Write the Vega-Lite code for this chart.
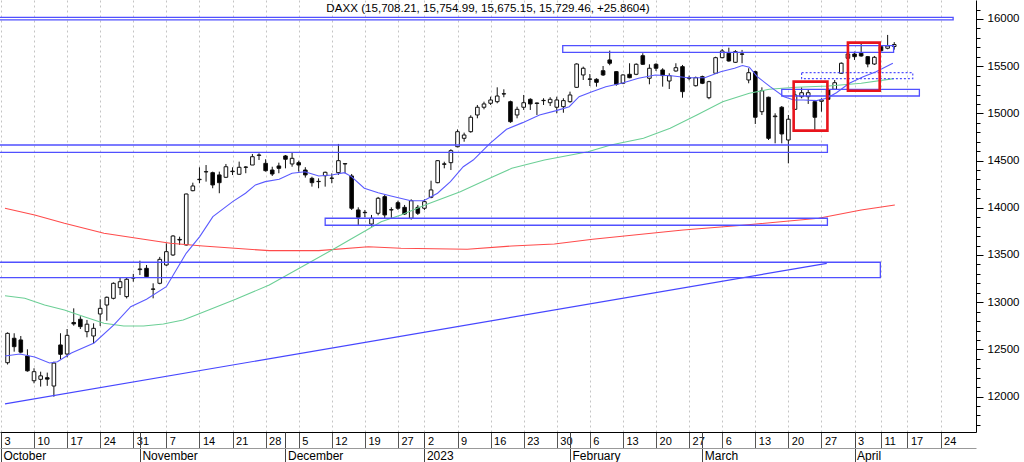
{
 "$schema": "https://vega.github.io/schema/vega-lite/v6.json",
 "width": 976,
 "height": 432,
 "autosize": {"type": "none"},
 "padding": {"left": 0, "top": 0, "right": 48, "bottom": 30},
 "background": "white",
 "config": {"view": {"stroke": null}, "font": "Liberation Sans"},
 "title": {"text": "DAXX (15,708.21, 15,754.99, 15,675.15, 15,729.46, +25.8604)", "font": "Liberation Sans", "fontSize": 11.6, "fontWeight": "normal", "color": "#000", "anchor": "middle", "frame": "group", "offset": -15},
 "datasets": {
  "candles": [
   {"i":1,"o":12359,"h":12680,"l":12340,"c":12670},
   {"i":2,"o":12618,"h":12671,"l":12476,"c":12529},
   {"i":3,"o":12600,"h":12642,"l":12459,"c":12471},
   {"i":4,"o":12430,"h":12501,"l":12264,"c":12273},
   {"i":5,"o":12168,"h":12300,"l":12141,"c":12264},
   {"i":6,"o":12183,"h":12264,"l":12106,"c":12220},
   {"i":7,"o":12200,"h":12254,"l":12114,"c":12185},
   {"i":8,"o":12112,"h":12370,"l":11999,"c":12355},
   {"i":9,"o":12547,"h":12671,"l":12395,"c":12448},
   {"i":10,"o":12451,"h":12716,"l":12416,"c":12649},
   {"i":11,"o":12785,"h":12935,"l":12751,"c":12770},
   {"i":12,"o":12819,"h":12851,"l":12716,"c":12741},
   {"i":13,"o":12688,"h":12812,"l":12628,"c":12767},
   {"i":14,"o":12642,"h":12776,"l":12565,"c":12723},
   {"i":15,"o":12875,"h":13031,"l":12748,"c":12935},
   {"i":16,"o":12970,"h":13060,"l":12804,"c":13052},
   {"i":17,"o":13041,"h":13210,"l":13030,"c":13200},
   {"i":18,"o":13154,"h":13260,"l":13076,"c":13217},
   {"i":19,"o":13059,"h":13260,"l":13040,"c":13243},
   {"i":20,"o":13262,"h":13300,"l":13217,"c":13255},
   {"i":21,"o":13345,"h":13440,"l":13288,"c":13352},
   {"i":22,"o":13359,"h":13394,"l":13264,"c":13270},
   {"i":23,"o":13140,"h":13200,"l":13041,"c":13137},
   {"i":24,"o":13200,"h":13480,"l":13190,"c":13454},
   {"i":25,"o":13394,"h":13624,"l":13384,"c":13535},
   {"i":26,"o":13500,"h":13710,"l":13490,"c":13701},
   {"i":27,"o":13665,"h":13694,"l":13606,"c":13659},
   {"i":28,"o":13606,"h":14150,"l":13600,"c":14146},
   {"i":29,"o":14181,"h":14266,"l":14175,"c":14231},
   {"i":30,"o":14298,"h":14429,"l":14260,"c":14302},
   {"i":31,"o":14380,"h":14453,"l":14277,"c":14383},
   {"i":32,"o":14372,"h":14383,"l":14207,"c":14242},
   {"i":33,"o":14348,"h":14383,"l":14154,"c":14266},
   {"i":34,"o":14323,"h":14464,"l":14315,"c":14435},
   {"i":35,"o":14388,"h":14429,"l":14347,"c":14383},
   {"i":36,"o":14355,"h":14489,"l":14350,"c":14429},
   {"i":37,"o":14432,"h":14440,"l":14366,"c":14429},
   {"i":38,"o":14453,"h":14570,"l":14453,"c":14541},
   {"i":39,"o":14555,"h":14577,"l":14506,"c":14559},
   {"i":40,"o":14471,"h":14514,"l":14383,"c":14393},
   {"i":41,"o":14400,"h":14435,"l":14337,"c":14358},
   {"i":42,"o":14443,"h":14478,"l":14366,"c":14418},
   {"i":43,"o":14549,"h":14559,"l":14418,"c":14514},
   {"i":44,"o":14464,"h":14584,"l":14435,"c":14524},
   {"i":45,"o":14478,"h":14499,"l":14383,"c":14453},
   {"i":46,"o":14400,"h":14430,"l":14320,"c":14348},
   {"i":47,"o":14312,"h":14329,"l":14224,"c":14266},
   {"i":48,"o":14280,"h":14312,"l":14207,"c":14277},
   {"i":49,"o":14340,"h":14383,"l":14224,"c":14376},
   {"i":50,"o":14315,"h":14365,"l":14260,"c":14312},
   {"i":51,"o":14372,"h":14676,"l":14348,"c":14499},
   {"i":52,"o":14468,"h":14470,"l":14365,"c":14464},
   {"i":53,"o":14337,"h":14358,"l":13977,"c":13995},
   {"i":54,"o":13977,"h":14005,"l":13818,"c":13899},
   {"i":55,"o":13952,"h":13977,"l":13899,"c":13948},
   {"i":56,"o":13828,"h":13924,"l":13800,"c":13889},
   {"i":57,"o":13942,"h":14115,"l":13920,"c":14101},
   {"i":58,"o":14118,"h":14136,"l":13889,"c":13924},
   {"i":59,"o":13980,"h":14005,"l":13889,"c":13977},
   {"i":60,"o":14054,"h":14075,"l":13977,"c":13995},
   {"i":61,"o":14005,"h":14030,"l":13924,"c":13934},
   {"i":62,"o":13889,"h":14090,"l":13875,"c":14075},
   {"i":63,"o":14005,"h":14030,"l":13924,"c":13942},
   {"i":64,"o":13995,"h":14090,"l":13977,"c":14065},
   {"i":65,"o":14111,"h":14287,"l":14101,"c":14189},
   {"i":66,"o":14266,"h":14505,"l":14260,"c":14499},
   {"i":67,"o":14465,"h":14488,"l":14418,"c":14461},
   {"i":68,"o":14478,"h":14620,"l":14400,"c":14605},
   {"i":69,"o":14647,"h":14830,"l":14640,"c":14806},
   {"i":70,"o":14736,"h":14796,"l":14700,"c":14771},
   {"i":71,"o":14806,"h":14980,"l":14795,"c":14959},
   {"i":72,"o":14983,"h":15089,"l":14948,"c":15065},
   {"i":73,"o":15065,"h":15124,"l":15043,"c":15100},
   {"i":74,"o":15107,"h":15177,"l":15089,"c":15142},
   {"i":75,"o":15124,"h":15276,"l":15107,"c":15184},
   {"i":76,"o":15208,"h":15255,"l":15171,"c":15205},
   {"i":77,"o":15124,"h":15135,"l":14900,"c":14912},
   {"i":78,"o":14983,"h":15071,"l":14948,"c":15043},
   {"i":79,"o":15065,"h":15195,"l":15036,"c":15113},
   {"i":80,"o":15149,"h":15160,"l":15036,"c":15100},
   {"i":81,"o":15110,"h":15115,"l":14983,"c":15105},
   {"i":82,"o":15138,"h":15160,"l":15089,"c":15135},
   {"i":83,"o":15113,"h":15171,"l":15078,"c":15149},
   {"i":84,"o":15065,"h":15177,"l":15001,"c":15142},
   {"i":85,"o":15071,"h":15160,"l":15007,"c":15135},
   {"i":86,"o":15124,"h":15230,"l":15113,"c":15195},
   {"i":87,"o":15276,"h":15530,"l":15270,"c":15523},
   {"i":88,"o":15407,"h":15495,"l":15354,"c":15478},
   {"i":89,"o":15365,"h":15417,"l":15290,"c":15361},
   {"i":90,"o":15361,"h":15372,"l":15283,"c":15329},
   {"i":91,"o":15452,"h":15502,"l":15396,"c":15407},
   {"i":92,"o":15566,"h":15665,"l":15510,"c":15531},
   {"i":93,"o":15442,"h":15449,"l":15293,"c":15308},
   {"i":94,"o":15319,"h":15415,"l":15310,"c":15407},
   {"i":95,"o":15414,"h":15531,"l":15372,"c":15378},
   {"i":96,"o":15414,"h":15530,"l":15405,"c":15520},
   {"i":97,"o":15611,"h":15637,"l":15513,"c":15520},
   {"i":98,"o":15372,"h":15520,"l":15308,"c":15478},
   {"i":99,"o":15520,"h":15531,"l":15449,"c":15478},
   {"i":100,"o":15460,"h":15478,"l":15283,"c":15400},
   {"i":101,"o":15343,"h":15425,"l":15258,"c":15400},
   {"i":102,"o":15449,"h":15531,"l":15442,"c":15484},
   {"i":103,"o":15495,"h":15513,"l":15166,"c":15230},
   {"i":104,"o":15372,"h":15400,"l":15350,"c":15378},
   {"i":105,"o":15293,"h":15390,"l":15285,"c":15378},
   {"i":106,"o":15389,"h":15400,"l":15310,"c":15319},
   {"i":107,"o":15166,"h":15345,"l":15150,"c":15336},
   {"i":108,"o":15425,"h":15600,"l":15420,"c":15590},
   {"i":109,"o":15590,"h":15682,"l":15584,"c":15661},
   {"i":110,"o":15637,"h":15696,"l":15548,"c":15555},
   {"i":111,"o":15541,"h":15670,"l":15535,"c":15654},
   {"i":112,"o":15630,"h":15672,"l":15531,"c":15626},
   {"i":113,"o":15354,"h":15478,"l":15319,"c":15431},
   {"i":114,"o":15442,"h":15452,"l":14888,"c":14959},
   {"i":115,"o":15018,"h":15276,"l":14983,"c":15240},
   {"i":116,"o":15171,"h":15177,"l":14718,"c":14736},
   {"i":117,"o":14965,"h":15001,"l":14683,"c":14972},
   {"i":118,"o":15065,"h":15078,"l":14683,"c":14782},
   {"i":119,"o":14718,"h":14983,"l":14471,"c":14938},
   {"i":120,"o":15043,"h":15240,"l":15036,"c":15195},
   {"i":121,"o":15177,"h":15276,"l":15160,"c":15219},
   {"i":122,"o":15177,"h":15248,"l":15100,"c":15219},
   {"i":123,"o":15124,"h":15142,"l":14824,"c":14959},
   {"i":124,"o":15128,"h":15160,"l":15018,"c":15142},
   {"i":125,"o":15248,"h":15266,"l":15142,"c":15149},
   {"i":126,"o":15255,"h":15354,"l":15248,"c":15325},
   {"i":127,"o":15425,"h":15540,"l":15420,"c":15531},
   {"i":128,"o":15584,"h":15643,"l":15573,"c":15629},
   {"i":129,"o":15629,"h":15654,"l":15566,"c":15601},
   {"i":130,"o":15637,"h":15735,"l":15600,"c":15608},
   {"i":131,"o":15601,"h":15608,"l":15488,"c":15523},
   {"i":132,"o":15523,"h":15608,"l":15513,"c":15594},
   {"i":133,"o":15707,"h":15715,"l":15655,"c":15664},
   {"i":134,"o":15690,"h":15831,"l":15679,"c":15714},
   {"i":135,"o":15708.21,"h":15754.99,"l":15675.15,"c":15729.46}
  ],
  "blueMA": [
   {"i":0.61,"v":12430},{"i":2.86,"v":12451},{"i":5.1,"v":12420},{"i":7.34,"v":12356},{"i":8.54,"v":12370},
   {"i":10.64,"v":12462},{"i":14.08,"v":12568},{"i":17.07,"v":12759},{"i":19.61,"v":12952},{"i":22.0,"v":13031},
   {"i":24.99,"v":13164},{"i":27.99,"v":13518},{"i":30.04,"v":13694},{"i":32.03,"v":13906},{"i":35.02,"v":14065},
   {"i":36.96,"v":14154},{"i":38.46,"v":14242},{"i":39.95,"v":14277},{"i":42.05,"v":14302},{"i":43.99,"v":14365},
   {"i":45.94,"v":14382},{"i":48.03,"v":14337},{"i":49.98,"v":14347},{"i":51.92,"v":14372},{"i":52.97,"v":14330},
   {"i":54.91,"v":14207},{"i":57.01,"v":14160},{"i":58.95,"v":14125},{"i":61.95,"v":14075},{"i":63.89,"v":14075},
   {"i":65.98,"v":14154},{"i":67.93,"v":14277},{"i":69.87,"v":14435},{"i":71.37,"v":14506},{"i":73.91,"v":14683},
   {"i":76.41,"v":14832},{"i":78.85,"v":14902},{"i":81.39,"v":14983},{"i":83.93,"v":15029},{"i":85.88,"v":15071},
   {"i":87.37,"v":15177},{"i":89.32,"v":15230},{"i":91.41,"v":15283},{"i":93.81,"v":15319},{"i":96.35,"v":15372},
   {"i":98.89,"v":15407},{"i":101.29,"v":15399},{"i":103.83,"v":15378},{"i":106.37,"v":15378},{"i":108.77,"v":15442},
   {"i":110.86,"v":15478},{"i":112.06,"v":15507},{"i":113.1,"v":15490},{"i":114.3,"v":15389},{"i":116.24,"v":15283},
   {"i":118.34,"v":15177},{"i":119.84,"v":15142},{"i":121.33,"v":15142},{"i":123.28,"v":15135},{"i":124.77,"v":15160},
   {"i":126.27,"v":15219},{"i":128.21,"v":15319},{"i":130.31,"v":15389},{"i":132.25,"v":15442},{"i":134.79,"v":15531}
  ],
  "greenMA": [
   {"i":0.61,"v":13069},{"i":3.6,"v":13041},{"i":6.6,"v":12970},{"i":9.59,"v":12917},{"i":12.58,"v":12846},
   {"i":15.57,"v":12777},{"i":18.56,"v":12748},{"i":21.56,"v":12748},{"i":24.55,"v":12769},{"i":27.54,"v":12812},
   {"i":29.48,"v":12865},{"i":35.47,"v":13031},{"i":40.55,"v":13182},{"i":45.49,"v":13376},{"i":50.43,"v":13569},
   {"i":52.52,"v":13654},{"i":57.46,"v":13853},{"i":60.45,"v":13924},{"i":64.49,"v":14040},{"i":69.42,"v":14171},
   {"i":74.36,"v":14330},{"i":77.2,"v":14418},{"i":82.14,"v":14506},{"i":88.72,"v":14594},{"i":92.16,"v":14665},
   {"i":97.1,"v":14736},{"i":101.14,"v":14842},{"i":105.17,"v":14983},{"i":109.07,"v":15124},{"i":113.1,"v":15213},
   {"i":116.09,"v":15255},{"i":120.13,"v":15277},{"i":125.07,"v":15290},{"i":130.01,"v":15319},{"i":134.94,"v":15368}
  ],
  "redMA": [
   {"i":0.61,"v":13995},{"i":5.1,"v":13924},{"i":9.59,"v":13836},{"i":15.57,"v":13730},{"i":21.56,"v":13666},
   {"i":25.59,"v":13624},{"i":30.53,"v":13595},{"i":40.55,"v":13546},{"i":48.03,"v":13546},{"i":55.51,"v":13588},
   {"i":60.45,"v":13571},{"i":70.47,"v":13561},{"i":77.2,"v":13595},{"i":83.63,"v":13617},{"i":89.42,"v":13666},
   {"i":103.08,"v":13765},{"i":112.1,"v":13815},{"i":123.57,"v":13889},{"i":130.01,"v":13977},{"i":135.09,"v":14030}
  ],
  "boxes": [
   {"x1":-3,"x2":143.9,"y1":15990,"y2":16018},
   {"x1":84.9,"x2":134.9,"y1":15647,"y2":15717},
   {"x1":118,"x2":138.8,"y1":15184,"y2":15255},
   {"x1":-3,"x2":124.9,"y1":14588,"y2":14665},
   {"x1":49,"x2":124.9,"y1":13815,"y2":13889},
   {"x1":-3,"x2":132.9,"y1":13260,"y2":13423}
  ],
  "dashbox": [
   {"x1":121,"x2":137.8,"y1":15368,"y2":15431}
  ],
  "redboxes": [
   {"x1":119.8,"x2":124.9,"y1":14817,"y2":15336},
   {"x1":128,"x2":132.8,"y1":15240,"y2":15749}
  ],
  "trend": [
   {"i":0.613,"v":11922},{"i":124.8,"v":13412}
  ]
 },
 "layer": [
  {
   "data": {"name": "candles"},
   "mark": {"type": "rule", "color": "#111", "strokeWidth": 1},
   "encoding": {
    "x": {"field": "i", "type": "quantitative", "scale": {"domain": [0.613, 146.6], "nice": false, "zero": false},
     "axis": {"orient": "bottom", "title": null,
      "values": [0,5,10,15,20,25,30,35,40,45,50,55,60,64,69,74,79,84,89,94,99,104,109,114,119,124,129,133,137,142],
      "labelExpr": "{'i0':'3','i5':'10','i10':'17','i15':'24','i20':'31','i25':'7','i30':'14','i35':'21','i40':'28','i45':'5','i50':'12','i55':'19','i60':'27','i64':'2','i69':'9','i74':'16','i79':'23','i84':'30','i89':'6','i94':'13','i99':'20','i104':'27','i109':'6','i114':'13','i119':'20','i124':'27','i129':'3','i133':'11','i137':'17','i142':'24'}['i'+datum.value]",
      "grid": true, "gridColor": "#c4c4c4", "gridDash": [2, 3], "gridWidth": 1,
      "domainColor": "#000", "domainWidth": 1, "tickColor": "#555", "tickSize": 16, "tickWidth": 1,
      "labelAlign": "left", "labelBaseline": "top", "labelPadding": -13, "labelOffset": 3,
      "labelFont": "Liberation Sans", "labelFontSize": 11, "labelColor": "#000",
      "labelOverlap": false, "labelFlush": false, "labelBound": false}},
    "y": {"field": "l", "type": "quantitative", "scale": {"domain": [11625, 16201], "nice": false, "zero": false},
     "axis": {"orient": "right", "title": null, "values": [12000,12500,13000,13500,14000,14500,15000,15500,16000], "format": "d",
      "grid": false, "domainColor": "#000", "tickColor": "#000", "tickSize": 7, "labelPadding": 4,
      "labelFont": "Liberation Sans", "labelFontSize": 11.5, "labelColor": "#000",
      "labelOverlap": false, "labelFlush": false, "labelBound": false}},
    "y2": {"field": "h"}
   }
  },
  {
   "data": {"name": "candles"},
   "mark": {"type": "bar", "width": 3.6, "stroke": "#111", "strokeWidth": 1},
   "encoding": {
    "x": {"field": "i", "type": "quantitative",
     "axis": {"orient": "bottom", "offset": 0, "title": null, "domain": false,
      "values": [0,21,43,64,86,106,129],
      "labelExpr": "{'i0':'October','i21':'November','i43':'December','i64':'2023','i86':'February','i106':'March','i129':'April'}['i'+datum.value]",
      "grid": false, "tickColor": "#444", "tickSize": 30,
      "labelAlign": "left", "labelBaseline": "top", "labelPadding": -12, "labelOffset": 2,
      "labelFont": "Liberation Sans", "labelFontSize": 12, "labelColor": "#000",
      "labelOverlap": false, "labelFlush": false, "labelBound": false}},
    "y": {"field": "o", "type": "quantitative",
     "axis": {"orient": "right", "title": null, "labels": false, "domain": false, "grid": false, "tickColor": "#000", "tickSize": 4,
      "values": [11700,11800,11900,12100,12200,12300,12400,12600,12700,12800,12900,13100,13200,13300,13400,13600,13700,13800,13900,14100,14200,14300,14400,14600,14700,14800,14900,15100,15200,15300,15400,15600,15700,15800,15900,16100]}},
    "y2": {"field": "c"},
    "fill": {"condition": {"test": "datum.c >= datum.o", "value": "white"}, "value": "black"}
   }
  },
  {
   "data": {"name": "redMA"},
   "mark": {"type": "line", "color": "#ff4b4b", "strokeWidth": 1.1},
   "encoding": {"x": {"field": "i", "type": "quantitative",
     "axis": {"orient": "bottom", "offset": 16, "title": null, "domain": true, "domainColor": "#999", "ticks": false, "labels": false, "grid": false}},
    "y": {"field": "v", "type": "quantitative", "axis": null}}
  },
  {
   "data": {"name": "greenMA"},
   "mark": {"type": "line", "color": "#6ccf96", "strokeWidth": 1.1},
   "encoding": {"x": {"field": "i", "type": "quantitative", "axis": null}, "y": {"field": "v", "type": "quantitative", "axis": null}}
  },
  {
   "data": {"name": "blueMA"},
   "mark": {"type": "line", "color": "#5a5aff", "strokeWidth": 1.1},
   "encoding": {"x": {"field": "i", "type": "quantitative", "axis": null}, "y": {"field": "v", "type": "quantitative", "axis": null}}
  },
  {
   "data": {"name": "trend"},
   "mark": {"type": "line", "color": "#4646ff", "strokeWidth": 1.2},
   "encoding": {"x": {"field": "i", "type": "quantitative", "axis": null}, "y": {"field": "v", "type": "quantitative", "axis": null}}
  },
  {
   "data": {"name": "boxes"},
   "mark": {"type": "rect", "fill": "transparent", "stroke": "#5050ff", "strokeWidth": 1.3},
   "encoding": {"x": {"field": "x1", "type": "quantitative", "axis": null}, "x2": {"field": "x2"}, "y": {"field": "y1", "type": "quantitative", "axis": null}, "y2": {"field": "y2"}}
  },
  {
   "data": {"name": "dashbox"},
   "mark": {"type": "rect", "fill": "transparent", "stroke": "#5050ff", "strokeWidth": 1.2, "strokeDash": [2, 2]},
   "encoding": {"x": {"field": "x1", "type": "quantitative", "axis": null}, "x2": {"field": "x2"}, "y": {"field": "y1", "type": "quantitative", "axis": null}, "y2": {"field": "y2"}}
  },
  {
   "data": {"name": "redboxes"},
   "mark": {"type": "rect", "fill": "transparent", "stroke": "#e8141c", "strokeWidth": 2.6},
   "encoding": {"x": {"field": "x1", "type": "quantitative", "axis": null}, "x2": {"field": "x2"}, "y": {"field": "y1", "type": "quantitative", "axis": null}, "y2": {"field": "y2"}}
  }
 ],
 "resolve": {"axis": {"x": "independent", "y": "independent"}}
}
